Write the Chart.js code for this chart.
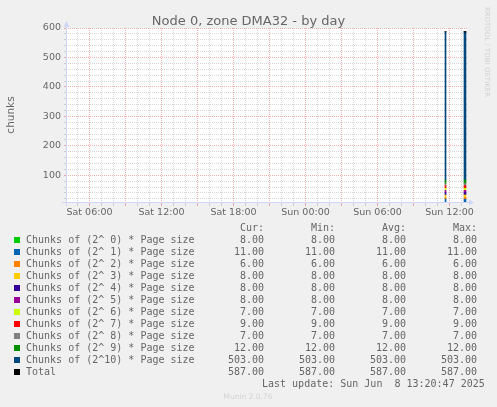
<!DOCTYPE html>
<html>
<head>
<meta charset="utf-8">
<script src="https://cdn.jsdelivr.net/npm/chart.js@4.4.1/dist/chart.umd.min.js"></script>
<style>
  html, body { margin: 0; padding: 0; background: #f0f0f0; }
  #wrap { width: 497px; height: 407px; }
</style>
</head>
<body>
<div id="wrap"><canvas id="chart" width="497" height="407"></canvas></div>
<script>
// sample times, hours counted from Sat 00:00 (Sun 11:40, Sun 13:15, Sun 13:20)
const sampleHours = [35.667, 37.25, 37.333];

const chunks0  = [8, 8, 8];
const chunks1  = [11, 11, 11];
const chunks2  = [6, 6, 6];
const chunks3  = [8, 8, 8];
const chunks4  = [8, 8, 8];
const chunks5  = [8, 8, 8];
const chunks6  = [7, 7, 7];
const chunks7  = [9, 9, 9];
const chunks8  = [7, 7, 7];
const chunks9  = [12, 12, 12];
const chunks10 = [503, 503, 503];
const total    = [587, 587, 587];

const seriesNames = [
  'Chunks of (2^ 0) * Page size',
  'Chunks of (2^ 1) * Page size',
  'Chunks of (2^ 2) * Page size',
  'Chunks of (2^ 3) * Page size',
  'Chunks of (2^ 4) * Page size',
  'Chunks of (2^ 5) * Page size',
  'Chunks of (2^ 6) * Page size',
  'Chunks of (2^ 7) * Page size',
  'Chunks of (2^ 8) * Page size',
  'Chunks of (2^ 9) * Page size',
  'Chunks of (2^10) * Page size',
  'Total',
];
const seriesColors = [
  '#00cc00', '#0066b3', '#ff8000', '#ffcc00', '#330099', '#990099',
  '#ccff00', '#ff0000', '#808080', '#008f00', '#00487d', '#000000',
];

// legend statistics
const curVals = [8, 11, 6, 8, 8, 8, 7, 9, 7, 12, 503, 587];
const minVals = [8, 11, 6, 8, 8, 8, 7, 9, 7, 12, 503, 587];
const avgVals = [8, 11, 6, 8, 8, 8, 7, 9, 7, 12, 503, 587];
const maxVals = [8, 11, 6, 8, 8, 8, 7, 9, 7, 12, 503, 587];

// axes
const xTickHours  = [6, 12, 18, 24, 30, 36];
const xTickLabels = ['Sat 06:00', 'Sat 12:00', 'Sat 18:00', 'Sun 00:00', 'Sun 06:00', 'Sun 12:00'];
const yTickValues = [100, 200, 300, 400, 500, 600];

const TITLE = 'Node 0, zone DMA32 - by day';
const Y_TITLE = 'chunks';
const LAST_UPDATE = 'Last update: Sun Jun  8 13:20:47 2025';
const VERSION = 'Munin 2.0.76';
const WATERMARK = 'RRDTOOL / TOBI OETIKER';

const COLORS = {
  back: '#f0f0f0',
  canvas: '#ffffff',
  font: '#666666',
  axis: '#cfd6f8',
  grid: 'rgba(143, 143, 143, 0.35)',
  mgrid: 'rgba(222, 79, 79, 0.45)',
  faint: '#d2d2d2',
};

const stackSeries = [chunks0, chunks1, chunks2, chunks3, chunks4, chunks5,
                     chunks6, chunks7, chunks8, chunks9, chunks10];

const datasets = stackSeries.map((vals, i) => ({
  type: 'bar',
  label: seriesNames[i],
  data: sampleHours.map((h, j) => ({ x: h, y: vals[j] })),
  backgroundColor: seriesColors[i],
  borderWidth: 0,
  barThickness: 1,
}));

// samples more than one step apart are not joined (rrd unknown in between)
const gapped = (c) => (c.p1.parsed.x - c.p0.parsed.x > 0.1 ? 'rgba(0,0,0,0)' : undefined);

datasets.push({
  type: 'line',
  label: 'Total',
  stack: 'total',
  order: -1,
  data: sampleHours.map((h, j) => ({ x: h, y: total[j] })),
  borderColor: '#000000',
  backgroundColor: '#000000',
  borderWidth: 1,
  pointStyle: 'line',
  pointRadius: 1,
  pointBorderWidth: 1,
  fill: false,
  tension: 0,
  segment: { borderColor: gapped },
});

// Munin-style background, frame, titles and text legend
const muninDecor = {
  id: 'muninDecor',
  beforeDraw(chart) {
    const ctx = chart.ctx;
    const a = chart.chartArea;
    ctx.save();
    ctx.fillStyle = COLORS.back;
    ctx.fillRect(0, 0, chart.width, chart.height);
    ctx.fillStyle = COLORS.canvas;
    ctx.fillRect(a.left, a.top, a.right - a.left, a.bottom - a.top);
    ctx.restore();
  },
  afterDraw(chart) {
    const ctx = chart.ctx;
    const a = chart.chartArea;
    ctx.save();

    // axes + arrows
    ctx.strokeStyle = COLORS.axis;
    ctx.fillStyle = COLORS.axis;
    ctx.lineWidth = 1;
    ctx.beginPath();
    ctx.moveTo(a.left - 4, a.bottom - 0.5);
    ctx.lineTo(a.right + 3, a.bottom - 0.5);
    ctx.moveTo(a.left + 0.5, a.bottom + 3);
    ctx.lineTo(a.left + 0.5, a.top - 3);
    ctx.stroke();
    ctx.beginPath();
    ctx.moveTo(a.right + 2, a.bottom - 3.5);
    ctx.lineTo(a.right + 7, a.bottom - 0.5);
    ctx.lineTo(a.right + 2, a.bottom + 2.5);
    ctx.closePath();
    ctx.fill();
    ctx.beginPath();
    ctx.moveTo(a.left - 2.5, a.top - 1);
    ctx.lineTo(a.left + 0.5, a.top - 7);
    ctx.lineTo(a.left + 3.5, a.top - 1);
    ctx.closePath();
    ctx.fill();

    // title
    ctx.fillStyle = COLORS.font;
    ctx.font = '13px "DejaVu Sans"';
    ctx.textAlign = 'center';
    ctx.textBaseline = 'alphabetic';
    ctx.fillText(TITLE, 248.5, 24.5);

    // y axis title
    ctx.save();
    ctx.translate(14, 115);
    ctx.rotate(-Math.PI / 2);
    ctx.font = '10.5px "DejaVu Sans"';
    ctx.textAlign = 'center';
    ctx.fillText(Y_TITLE, 0, 0);
    ctx.restore();

    // watermark
    ctx.save();
    ctx.translate(485, 52);
    ctx.rotate(Math.PI / 2);
    ctx.font = '7px "DejaVu Sans"';
    ctx.fillStyle = COLORS.faint;
    ctx.textAlign = 'center';
    ctx.fillText(WATERMARK, 0, 0);
    ctx.restore();

    // text legend
    ctx.font = '10px "DejaVu Sans Mono"';
    ctx.fillStyle = COLORS.font;
    const cols = [264, 335, 406, 477];
    const heads = ['Cur:', 'Min:', 'Avg:', 'Max:'];
    ctx.textAlign = 'right';
    heads.forEach((h, k) => ctx.fillText(h, cols[k], 231));
    seriesNames.forEach((name, i) => {
      const base = 243 + 12 * i;
      ctx.fillStyle = seriesColors[i];
      ctx.fillRect(14, base - 6, 6, 6);
      ctx.fillStyle = COLORS.font;
      ctx.textAlign = 'left';
      ctx.fillText(name, 26, base);
      ctx.textAlign = 'right';
      [curVals, minVals, avgVals, maxVals].forEach((arr, k) => {
        ctx.fillText(arr[i].toFixed(2), cols[k], base);
      });
    });
    ctx.textAlign = 'left';
    ctx.fillText(LAST_UPDATE, 262, 387);

    ctx.font = '7.5px "DejaVu Sans"';
    ctx.fillStyle = COLORS.faint;
    ctx.textAlign = 'center';
    ctx.fillText(VERSION, 248, 399);
    ctx.restore();
  },
};

new Chart(document.getElementById('chart'), {
  type: 'bar',
  data: { datasets },
  plugins: [muninDecor],
  options: {
    responsive: false,
    devicePixelRatio: 1,
    animation: false,
    layout: { autoPadding: false, padding: { left: 0, top: 28, right: 30, bottom: 0 } },
    plugins: {
      legend: { display: false },
      title: { display: false },
      tooltip: { enabled: false },
    },
    scales: {
      x: {
        type: 'linear',
        stacked: true,
        offset: false,
        min: 4.0417,
        max: 37.4583,
        afterFit: (s) => { s.height = 204; },
        grid: {
          offset: false,
          color: (c) => (c.tick && c.tick.value % 3 === 0 ? COLORS.mgrid : COLORS.grid),
          tickLength: 3,
          lineWidth: 1,
        },
        border: { display: false, dash: [1, 1] },
        ticks: {
          stepSize: 1,
          includeBounds: false,
          autoSkip: false,
          maxTicksLimit: 100,
          maxRotation: 0,
          minRotation: 0,
          padding: 1,
          color: COLORS.font,
          font: { family: 'DejaVu Sans', size: 9.5 },
          callback: (v) => {
            const k = xTickHours.indexOf(v);
            return k >= 0 ? xTickLabels[k] : '';
          },
        },
      },
      y: {
        type: 'linear',
        stacked: true,
        min: 6,
        max: 600,
        afterFit: (s) => { s.width = 66; },
        grid: {
          color: (c) => (c.tick && c.tick.value % 100 === 0 ? COLORS.mgrid : COLORS.grid),
          tickLength: 2,
          lineWidth: 1,
        },
        border: { display: false, dash: [1, 1] },
        ticks: {
          stepSize: 20,
          includeBounds: false,
          autoSkip: false,
          maxTicksLimit: 100,
          padding: 3,
          color: COLORS.font,
          font: { family: 'DejaVu Sans', size: 9.5 },
          callback: (v) => (yTickValues.includes(v) ? String(v) : ''),
        },
      },
    },
  },
});
</script>
</body>
</html>
